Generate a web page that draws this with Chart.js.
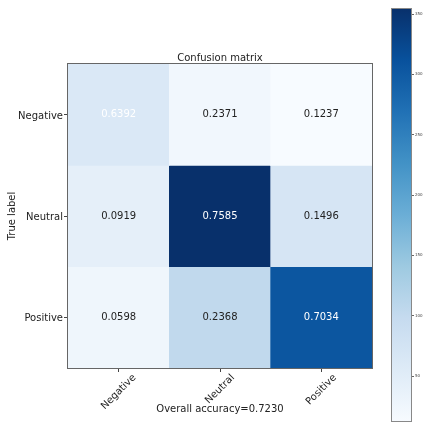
<!DOCTYPE html>
<html>
<head>
<meta charset="utf-8">
<script src="https://cdn.jsdelivr.net/npm/chart.js@4.4.1/dist/chart.umd.min.js"></script>
<style>
  html, body { margin: 0; padding: 0; background: #fff; }
  #wrap { position: relative; width: 425px; height: 427px; overflow: hidden; }
  #cm { position: absolute; left: 0; top: 0; }
  #cbar { position: absolute; left: 380px; top: 0; }
</style>
</head>
<body>
<div id="wrap">
  <canvas id="cm" width="425" height="427"></canvas>
  <canvas id="cbar" width="45" height="427"></canvas>
</div>
<script>
// Class names (rows = true label, columns = predicted label)
const classNames = ['Negative', 'Neutral', 'Positive'];

// Sample counts per true class, one entry per predicted class
const negativeCounts = [62, 23, 12];
const neutralCounts = [43, 355, 70];
const positiveCounts = [26, 103, 306];

// Colour bar tick values
const colorbarTicks = [50, 100, 150, 200, 250, 300, 350];

const FONT = 'DejaVu Sans';
const TEXT = '#222';

const rows = [negativeCounts, neutralCounts, positiveCounts];
const rowTotals = rows.map(r => r.reduce((a, b) => a + b, 0));
const allCounts = rows.flat();
const cMin = Math.min(...allCounts);
const cMax = Math.max(...allCounts);
const grandTotal = rowTotals.reduce((a, b) => a + b, 0);
const accuracy = rows.reduce((s, r, i) => s + r[i], 0) / grandTotal;
const rateMax = Math.max(...rows.map((r, i) => Math.max(...r.map(v => v / rowTotals[i]))));
const textThresh = rateMax / 1.5;

// Matplotlib "Blues" colour map anchors
const BLUES = [
  [247, 251, 255], [222, 235, 247], [198, 219, 239], [158, 202, 225],
  [107, 174, 214], [66, 146, 198], [33, 113, 181], [8, 81, 156], [8, 48, 107]
];
function rgb(c) { return `rgb(${Math.round(c[0])},${Math.round(c[1])},${Math.round(c[2])})`; }
function blues(t) {
  t = Math.min(1, Math.max(0, t));
  const s = t * (BLUES.length - 1);
  const i = Math.min(BLUES.length - 2, Math.floor(s));
  const f = s - i;
  const a = BLUES[i], b = BLUES[i + 1];
  return rgb([a[0] + (b[0] - a[0]) * f, a[1] + (b[1] - a[1]) * f, a[2] + (b[2] - a[2]) * f]);
}

// One dataset per true-label row; each bar spans one row band of the matrix
const datasets = rows.map((row, r) => ({
  label: classNames[r],
  data: row.map(() => [r, r + 1]),
  backgroundColor: row.map(v => blues((v - cMin) / (cMax - cMin))),
  borderWidth: 0,
  barPercentage: 1,
  categoryPercentage: 1,
  grouped: false
}));

const matrixDecor = {
  id: 'matrixDecor',
  afterDatasetsDraw(chart) {
    const ctx = chart.ctx;
    const area = chart.chartArea;
    ctx.save();
    ctx.font = `10px "${FONT}"`;
    ctx.textAlign = 'center';
    ctx.textBaseline = 'middle';
    chart.data.datasets.forEach((ds, r) => {
      const meta = chart.getDatasetMeta(r);
      meta.data.forEach((bar, c) => {
        const rate = rows[r][c] / rowTotals[r];
        ctx.fillStyle = rate > textThresh ? '#ffffff' : TEXT;
        ctx.fillText(rate.toFixed(4), bar.x, (bar.y + bar.base) / 2);
      });
    });
    // plot frame
    ctx.strokeStyle = '#666';
    ctx.lineWidth = 1;
    ctx.strokeRect(area.left - 0.5, area.top - 0.5, area.width + 1, area.height + 1);
    ctx.restore();
  },
  afterDraw(chart) {
    // predicted-label tick labels, rotated 45° and centred under each tick
    const xs = chart.scales.x;
    const ctx = chart.ctx;
    ctx.save();
    ctx.font = `10px "${FONT}"`;
    ctx.fillStyle = TEXT;
    ctx.textAlign = 'center';
    ctx.textBaseline = 'middle';
    xs.ticks.forEach((t, i) => {
      const label = xs.getLabelForValue(t.value);
      const w = ctx.measureText(label).width;
      const x = xs.getPixelForTick(i);
      const y = xs.top + 5 + (w + 9) * 0.3536;
      ctx.save();
      ctx.translate(x, y);
      ctx.rotate(-Math.PI / 4);
      ctx.fillText(label, 0, 0);
      ctx.restore();
    });
    ctx.restore();
  }
};

new Chart(document.getElementById('cm'), {
  type: 'bar',
  data: { labels: classNames, datasets },
  options: {
    responsive: false,
    animation: false,
    events: [],
    layout: { padding: { left: 0, right: 53, top: 0, bottom: 0 } },
    plugins: {
      legend: { display: false },
      tooltip: { enabled: false },
      title: {
        display: true,
        text: 'Confusion matrix',
        fullSize: false,
        color: TEXT,
        font: { family: FONT, size: 10, weight: 'normal' },
        padding: { top: 52, bottom: 0 }
      }
    },
    scales: {
      x: {
        type: 'category',
        offset: true,
        afterFit: s => { s.height = 59; },
        ticks: { display: false },
        grid: { offset: false, drawOnChartArea: false, drawTicks: true, tickLength: 4, color: '#444' },
        border: { display: false },
        title: {
          display: true,
          text: 'Overall accuracy=' + accuracy.toFixed(4),
          color: TEXT,
          font: { family: FONT, size: 10 },
          padding: { top: 0, bottom: 12 }
        }
      },
      y: {
        type: 'linear',
        min: 0,
        max: classNames.length,
        reverse: true,
        afterBuildTicks: s => { s.ticks = classNames.map((_, i) => ({ value: i + 0.5 })); },
        afterFit: s => { s.width = 68; },
        ticks: {
          callback: v => classNames[Math.floor(v)],
          color: TEXT,
          font: { family: FONT, size: 10 },
          padding: 1,
          labelOffset: 1.5
        },
        grid: { drawOnChartArea: false, drawTicks: true, tickLength: 4, color: '#444' },
        border: { display: false },
        title: {
          display: true,
          text: 'True label',
          color: TEXT,
          font: { family: FONT, size: 10 },
          padding: { top: 6, bottom: 0 }
        }
      }
    }
  },
  plugins: [matrixDecor]
});

// Colour bar: a single floating bar from the smallest to the largest count
const barFrame = {
  id: 'barFrame',
  afterDatasetsDraw(chart) {
    const a = chart.chartArea;
    const ctx = chart.ctx;
    ctx.save();
    ctx.strokeStyle = '#888';
    ctx.lineWidth = 1;
    ctx.strokeRect(a.left + 0.5, a.top + 0.5, a.width - 1, a.height - 1);
    ctx.restore();
  }
};

new Chart(document.getElementById('cbar'), {
  type: 'bar',
  data: {
    labels: [''],
    datasets: [{
      data: [[cMin, cMax]],
      borderWidth: 0,
      barPercentage: 1,
      categoryPercentage: 1,
      backgroundColor: c => {
        const ch = c.chart;
        const ys = ch.scales.y;
        if (!ys || !ch.chartArea) return blues(0.5);
        const g = ch.ctx.createLinearGradient(0, ys.getPixelForValue(cMin), 0, ys.getPixelForValue(cMax));
        BLUES.forEach((col, i) => g.addColorStop(i / (BLUES.length - 1), rgb(col)));
        return g;
      }
    }]
  },
  options: {
    responsive: false,
    animation: false,
    events: [],
    layout: { padding: { left: 11, right: 0, top: 8, bottom: 5 } },
    plugins: { legend: { display: false }, tooltip: { enabled: false } },
    scales: {
      x: { display: false },
      y: {
        position: 'right',
        min: cMin,
        max: cMax,
        afterBuildTicks: s => { s.ticks = colorbarTicks.map(v => ({ value: v })); },
        afterFit: s => { s.width = 13; },
        ticks: { color: '#444', font: { family: FONT, size: 4 }, padding: 1 },
        grid: { drawOnChartArea: false, drawTicks: true, tickLength: 2, color: '#666' },
        border: { display: false }
      }
    }
  },
  plugins: [barFrame]
});
</script>
</body>
</html>
